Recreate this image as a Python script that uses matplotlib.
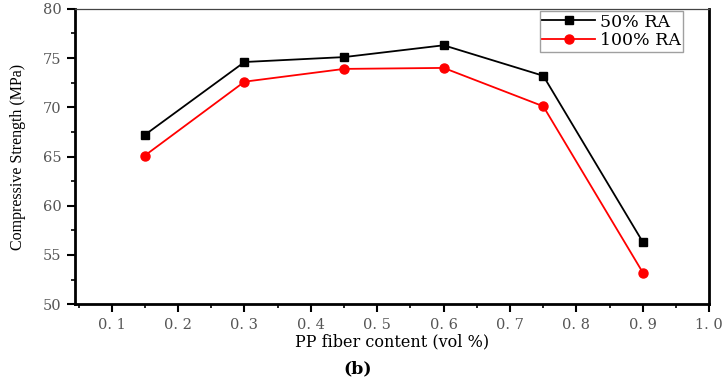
import matplotlib
matplotlib.use("Agg")
import matplotlib.pyplot as plt
from matplotlib.ticker import MultipleLocator

fiber = [0.15, 0.30, 0.45, 0.60, 0.75, 0.90]
ra50 = [67.2, 74.6, 75.1, 76.3, 73.2, 56.3]
ra100 = [65.1, 72.6, 73.9, 74.0, 70.1, 53.2]
xticks = [0.1, 0.2, 0.3, 0.4, 0.5, 0.6, 0.7, 0.8, 0.9, 1.0]
xticklabels = ["0. 1", "0. 2", "0. 3", "0. 4", "0. 5", "0. 6", "0. 7", "0. 8", "0. 9", "1. 0"]
yticks = [50, 55, 60, 65, 70, 75, 80]

plt.rcParams['font.family'] = ['DejaVu Serif', 'Liberation Serif']

fig = plt.figure(figsize=(7.23, 3.85), dpi=100)
ax = fig.add_axes([0.104, 0.21, 0.877, 0.767])

ax.plot(fiber, ra50, color='black', marker='s', markersize=6, linewidth=1.3, label='50% RA')
ax.plot(fiber, ra100, color='red', marker='o', markersize=6.5, linewidth=1.3, label='100% RA')

ax.set_xlim(0.045, 1.0)
ax.set_ylim(50, 80)
ax.set_xticks(xticks)
ax.set_xticklabels(xticklabels)
ax.set_yticks(yticks)
ax.xaxis.set_minor_locator(MultipleLocator(0.05))
ax.yaxis.set_minor_locator(MultipleLocator(2.5))
ax.tick_params(axis='both', which='major', direction='out', length=6, width=1.5,
               labelsize=10.5, labelcolor='#555555', pad=4)
ax.tick_params(axis='both', which='minor', direction='out', length=3, width=1.2)

for s in ['left', 'bottom', 'right']:
    ax.spines[s].set_linewidth(2)
ax.spines['top'].set_linewidth(0.9)
ax.spines['top'].set_color('#444444')

ax.set_xlabel('PP fiber content (vol %)', fontsize=11.5, labelpad=1)
ax.set_ylabel('Compressive Strength (MPa)', fontsize=11.5, labelpad=12,
              family=['Liberation Serif'])

leg = ax.legend(loc='upper right', bbox_to_anchor=(0.959, 0.993), fontsize=12.5,
                frameon=True, fancybox=False, edgecolor='#888888',
                handlelength=3.0, borderpad=0.15, labelspacing=0.1, handletextpad=0.3,
                borderaxespad=0.0)
leg.get_frame().set_linewidth(1.0)

fig.text(0.495, 0.043, '(b)', ha='center', va='center', fontsize=12.5, fontweight='bold')

fig.savefig('out.png', dpi=100)
